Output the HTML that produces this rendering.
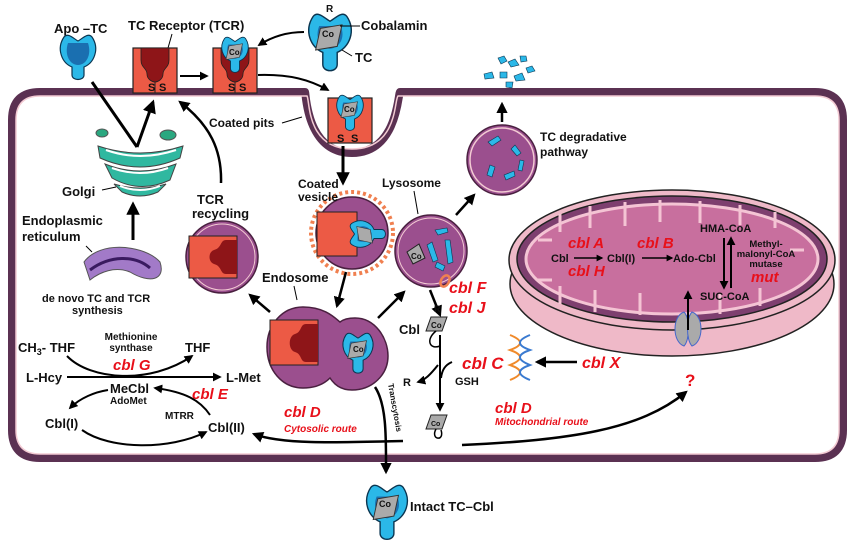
<!DOCTYPE html>
<html><head><meta charset="utf-8"><style>
html,body{margin:0;padding:0;background:#fff}
svg{display:block}
text{font-family:"Liberation Sans",sans-serif;font-weight:bold;fill:#111}
.r{fill:#e8101a;font-style:italic}
</style></head><body>
<svg width="850" height="545" viewBox="0 0 850 545" xmlns="http://www.w3.org/2000/svg">
<defs>
<marker id="ah" viewBox="0 0 10 10" refX="8" refY="5" markerWidth="4.5" markerHeight="4.5" orient="auto-start-reverse"><path d="M0,0L10,5L0,10z" fill="#000"/></marker>
<g id="tc"><path d="M-14,-18C-22,-6 -16,8 -6,12L-6,22C-6,29 6,29 6,22L6,12C16,8 22,-6 14,-18C10,-23 4,-16 0,-14C-4,-16 -10,-23 -14,-18Z" fill="#2bb8e8" stroke="#0b3550" stroke-width="1.2"/><path d="M-9,-10C-13,0 -8,8 0,9C8,8 13,0 9,-10Z" fill="#1a6fb0"/><path d="M-8,-8L10,-11L6,7L-12,10Z" fill="#aaa" stroke="#333" stroke-width="0.8"/></g>
<g id="rec"><rect x="0" y="0" width="44" height="45" fill="#ec5a45" stroke="#222" stroke-width="1.2"/><path d="M8,0L8,12C8,20 14,20 14,26C14,32 20,34 22,34C24,34 30,32 30,26C30,20 36,20 36,12L36,0Z" fill="#8e1518" stroke="#222" stroke-width="0.8"/><line x1="22" y1="34" x2="22" y2="45" stroke="#222"/></g>
</defs>

<!-- cell membrane -->
<path d="M305,92 L40,92 Q12,92 12,120 L12,430 Q12,458 40,458 L815,458 Q843,458 843,430 L843,120 Q843,92 815,92 L400,92 C398,92 398,153 352,153 C306,153 306,92 305,92Z" fill="#fff" stroke="#5b3152" stroke-width="8"/>
<path d="M305,96 L40,96 Q16,96 16,120 L16,430 Q16,454 40,454 L815,454 Q839,454 839,430 L839,120 Q839,96 815,96 L398,96 C394,100 398,149 352,149 C306,149 310,100 307,96Z" fill="none" stroke="#f3cbd3" stroke-width="1.5"/>

<!-- mitochondrion -->
<ellipse cx="672" cy="284" rx="162" ry="72" fill="#efb9c8" stroke="#222" stroke-width="1.5"/>
<ellipse cx="672" cy="260" rx="163" ry="70" fill="#efb9c8" stroke="#222" stroke-width="1.5"/>
<ellipse cx="672" cy="259" rx="155" ry="63" fill="#7e3f6f" stroke="#222" stroke-width="1.5"/>
<ellipse cx="672" cy="259" rx="146" ry="55" fill="#c86f9e" stroke="#f4c4d4" stroke-width="3"/>
<g fill="none" stroke="#f4c4d4" stroke-width="3">
<path d="M560,214 v18 M590,206 v22 M625,202 v24 M660,200 v22 M700,201 v22 M740,205 v20 M775,212 v16 M560,304 v-18 M595,312 v-22 M640,315 v-22 M720,314 v-20 M760,306 v-18 M538,240 h14 M538,280 h14 M804,250 h-14"/>
</g>
<g fill="#aaa" stroke="#4466cc" stroke-width="1"><path d="M684,312C672,316 672,342 684,346C690,340 690,318 684,312Z"/><path d="M692,312C704,316 704,342 692,346C686,340 686,318 692,312Z"/></g>
<line x1="688" y1="330" x2="688" y2="292" stroke="#000" stroke-width="2" marker-end="url(#ah)"/>
<text x="551" y="262" font-size="11">Cbl</text>
<line x1="574" y1="258" x2="602" y2="258" stroke="#000" stroke-width="1.5" marker-end="url(#ah)"/>
<text x="607" y="262" font-size="11">Cbl(I)</text>
<line x1="642" y1="258" x2="672" y2="258" stroke="#000" stroke-width="1.5" marker-end="url(#ah)"/>
<text x="673" y="262" font-size="11">Ado-Cbl</text>
<text class="r" x="568" y="248" font-size="15">cbl A</text>
<text class="r" x="568" y="276" font-size="15">cbl H</text>
<text class="r" x="637" y="248" font-size="15">cbl B</text>
<text x="700" y="232" font-size="11">HMA-CoA</text>
<text x="700" y="300" font-size="11">SUC-CoA</text>
<line x1="724" y1="238" x2="724" y2="288" stroke="#000" stroke-width="2" marker-end="url(#ah)"/>
<line x1="731" y1="288" x2="731" y2="238" stroke="#000" stroke-width="2" marker-end="url(#ah)"/>
<text x="766" y="247" font-size="9.5" text-anchor="middle" font-weight="normal">Methyl-</text>
<text x="766" y="257" font-size="9.5" text-anchor="middle" font-weight="normal">malonyl-CoA</text>
<text x="766" y="267" font-size="9.5" text-anchor="middle" font-weight="normal">mutase</text>
<text class="r" x="751" y="282" font-size="15">mut</text>

<!-- top section -->
<text x="54" y="33" font-size="13">Apo –TC</text>
<g transform="translate(78,55)"><path d="M-14,-18C-22,-6 -16,8 -6,12L-6,20C-6,26 6,26 6,20L6,12C16,8 22,-6 14,-18C10,-23 4,-16 0,-14C-4,-16 -10,-23 -14,-18Z" fill="#2bb8e8" stroke="#0b3550" stroke-width="1.2"/><path d="M-10,-12C-14,0 -8,10 0,10C8,10 14,0 10,-12Z" fill="#1a6fb0"/></g>
<text x="128" y="30" font-size="13">TC Receptor (TCR)</text>
<line x1="172" y1="34" x2="168" y2="48" stroke="#000"/>
<use href="#rec" x="133" y="48"/>
<use href="#rec" x="213" y="48"/>
<g transform="translate(235,52) scale(0.75)"><use href="#tc"/></g>
<text x="148" y="91" font-size="11">S</text><text x="159" y="91" font-size="11">S</text>
<text x="228" y="91" font-size="11">S</text><text x="239" y="91" font-size="11">S</text>
<text x="229" y="55" font-size="8">Co</text>
<line x1="180" y1="76" x2="207" y2="76" stroke="#000" stroke-width="2" marker-end="url(#ah)"/>
<g transform="translate(330,38) scale(1.2)"><use href="#tc"/></g>
<text x="322" y="37" font-size="9">Co</text>
<text x="326" y="12" font-size="10">R</text>
<text x="361" y="30" font-size="13">Cobalamin</text>
<line x1="340" y1="26" x2="360" y2="26" stroke="#000"/>
<text x="355" y="62" font-size="13">TC</text>
<line x1="342" y1="50" x2="352" y2="56" stroke="#000"/>
<path d="M304,32 C285,32 270,38 259,45" fill="none" stroke="#000" stroke-width="2" marker-end="url(#ah)"/>
<path d="M258,75 C290,74 310,80 328,90" fill="none" stroke="#000" stroke-width="2" marker-end="url(#ah)"/>

<!-- coated pit -->
<rect x="328" y="98" width="44" height="45" fill="#ec5a45" stroke="#222" stroke-width="1.2"/>
<g transform="translate(350,110) scale(0.75)"><use href="#tc"/></g>
<text x="344" y="112" font-size="8">Co</text>
<text x="337" y="142" font-size="11">S</text><text x="351" y="142" font-size="11">S</text>
<text x="209" y="127" font-size="12">Coated pits</text>
<line x1="282" y1="123" x2="302" y2="117" stroke="#000"/>

<!-- fragments -->
<g fill="#2bb8e8" stroke="#0b3550" stroke-width="0.6">
<path d="M498,58l6,-2 3,5 -6,3z"/><path d="M508,62l7,-3 4,6 -8,2z"/><path d="M520,56l6,0 1,5 -6,1z"/><path d="M484,74l8,-2 2,6 -9,1z"/><path d="M500,72l7,0 0,6 -7,0z"/><path d="M514,76l8,-3 3,7 -9,1z"/><path d="M526,68l6,-2 3,5 -7,2z"/><path d="M506,82l7,0 -1,6 -6,-1z"/>
</g>

<!-- degradative -->
<circle cx="502" cy="160" r="35" fill="#9b4f8e" stroke="#4a2040" stroke-width="1.5"/>
<circle cx="502" cy="160" r="32" fill="none" stroke="#f3cbd3" stroke-width="1.5"/>
<g fill="#2bb8e8" stroke="#0b3550" stroke-width="0.6"><path d="M488,142l10,-6 3,4 -9,6z"/><path d="M515,145l6,8 -4,3 -6,-7z"/><path d="M490,165l-3,10 5,2 3,-10z"/><path d="M504,175l10,-4 1,5 -9,4z"/><path d="M520,160l-2,10 4,1 2,-10z"/></g>
<line x1="502" y1="122" x2="502" y2="104" stroke="#000" stroke-width="2.5" marker-end="url(#ah)"/>
<text x="540" y="141" font-size="12">TC degradative</text>
<text x="540" y="156" font-size="12">pathway</text>

<!-- coated vesicle -->
<circle cx="352" cy="233" r="41" fill="none" stroke="#f08050" stroke-width="4" stroke-dasharray="3 3"/>
<circle cx="352" cy="233" r="36" fill="#9b4f8e" stroke="#4a2040" stroke-width="1.5"/>
<rect x="317" y="212" width="40" height="44" fill="#ec5a45" stroke="#222"/>
<g transform="translate(365,234) rotate(-90) scale(0.75)"><use href="#tc"/></g>
<text x="298" y="188" font-size="12">Coated</text>
<text x="298" y="201" font-size="12">vesicle</text>
<line x1="343" y1="146" x2="343" y2="183" stroke="#000" stroke-width="3" marker-end="url(#ah)"/>

<!-- lysosome -->
<circle cx="431" cy="251" r="36" fill="#9b4f8e" stroke="#4a2040" stroke-width="1.5"/>
<circle cx="431" cy="251" r="33" fill="none" stroke="#f3cbd3" stroke-width="1"/>
<path d="M407,252l12,-8 6,14 -12,6z" fill="#aaa" stroke="#222"/>
<text x="411" y="259" font-size="8">Co</text>
<g fill="#2bb8e8" stroke="#0b3550" stroke-width="0.6"><path d="M435,230l12,-2 1,4 -10,3z"/><path d="M427,245l5,-3 6,18 -5,2z"/><path d="M445,240l5,0 3,22 -5,2z"/><path d="M437,262l8,4 -2,5 -8,-4z"/></g>
<ellipse cx="445" cy="281" rx="4" ry="6" fill="none" stroke="#f08050" stroke-width="2.5" transform="rotate(30 445 281)"/>
<text x="382" y="187" font-size="12">Lysosome</text>
<line x1="414" y1="191" x2="418" y2="214" stroke="#000"/>
<text class="r" x="449" y="293" font-size="16">cbl F</text>
<text class="r" x="449" y="313" font-size="16">cbl J</text>
<line x1="456" y1="215" x2="474" y2="195" stroke="#000" stroke-width="2.5" marker-end="url(#ah)"/>

<!-- TCR recycling -->
<circle cx="222" cy="257" r="36" fill="#9b4f8e" stroke="#4a2040" stroke-width="1.5"/>
<circle cx="222" cy="257" r="33" fill="none" stroke="#f3cbd3" stroke-width="1"/>
<rect x="189" y="236" width="48" height="42" fill="#ec5a45" stroke="#222"/>
<path d="M237,240 L226,240 C220,240 222,248 214,250 C208,252 208,262 214,264 C222,266 220,274 226,274 L237,274Z" fill="#8e1518"/>
<text x="197" y="204" font-size="13">TCR</text>
<text x="192" y="218" font-size="13">recycling</text>
<path d="M221,183 C222,150 210,125 180,102" fill="none" stroke="#000" stroke-width="2.5" marker-end="url(#ah)"/>

<!-- golgi -->
<ellipse cx="102" cy="133" rx="6" ry="4" fill="#2aa880" stroke="#555"/>
<ellipse cx="168" cy="135" rx="8" ry="5" fill="#2aa880" stroke="#555"/>
<path d="M98,146 Q140,160 183,146 L180,158 Q140,176 100,158Z M105,164 Q140,178 176,164 L170,180 Q140,194 112,178Z M114,184 Q140,192 166,184 L158,192 Q140,200 122,192Z" fill="#30b8a0" stroke="#444"/>
<path d="M106,150 Q140,162 176,150 M112,168 Q140,178 168,168 M120,186 Q140,194 160,186" fill="none" stroke="#fff" stroke-width="2"/>
<text x="62" y="196" font-size="13">Golgi</text>
<line x1="102" y1="190" x2="116" y2="187" stroke="#000"/>
<path d="M137,147 L92,82 M137,147 L153,102" fill="none" stroke="#000" stroke-width="3" marker-end="url(#ah)"/>
<line x1="133" y1="240" x2="133" y2="204" stroke="#000" stroke-width="3" marker-end="url(#ah)"/>

<!-- ER -->
<path d="M84,262 C100,240 145,245 160,262 C166,280 150,284 130,272 C115,266 100,272 90,280 Z" fill="#a27ac8" stroke="#555"/>
<path d="M90,270 C110,255 135,255 150,268" fill="none" stroke="#3a1a60" stroke-width="3"/>
<text x="22" y="225" font-size="13">Endoplasmic</text>
<text x="22" y="241" font-size="13">reticulum</text>
<line x1="86" y1="246" x2="92" y2="252" stroke="#000"/>
<text x="42" y="302" font-size="11">de novo TC and TCR</text>
<text x="72" y="314" font-size="11">synthesis</text>

<!-- endosome -->
<path d="M303,307 C325,307 335,318 340,322 C345,318 352,318 355,318 C375,318 388,338 388,356 C388,375 372,390 352,390 C340,390 334,384 330,378 C323,385 313,388 303,388 C282,388 267,370 267,347 C267,325 282,307 303,307Z" fill="#9b4f8e" stroke="#4a2040" stroke-width="1.5"/>
<rect x="270" y="320" width="48" height="45" fill="#ec5a45" stroke="#222"/>
<path d="M318,324 L306,324 C300,324 302,332 295,334 C288,336 288,350 295,352 C302,354 300,362 306,362 L318,362Z" fill="#8e1518"/>
<g transform="translate(358,350) scale(0.85)"><use href="#tc"/></g>
<text x="353" y="352" font-size="8">Co</text>
<text x="262" y="282" font-size="13">Endosome</text>
<line x1="294" y1="286" x2="297" y2="300" stroke="#000"/>
<line x1="346" y1="272" x2="337" y2="306" stroke="#000" stroke-width="2.5" marker-end="url(#ah)"/>
<line x1="270" y1="312" x2="250" y2="295" stroke="#000" stroke-width="2.5" marker-end="url(#ah)"/>
<line x1="378" y1="318" x2="404" y2="292" stroke="#000" stroke-width="2.5" marker-end="url(#ah)"/>
<line x1="430" y1="290" x2="440" y2="315" stroke="#000" stroke-width="2.5" marker-end="url(#ah)"/>

<!-- Cbl processing -->
<path d="M431,317l16,0 -5,14 -16,0z" fill="#aaa" stroke="#222"/>
<text x="431" y="328" font-size="8">Co</text>
<text x="434" y="312" font-size="9" font-weight="normal">R</text>
<text x="399" y="334" font-size="13">Cbl</text>
<path d="M436,331 C425,340 430,350 440,346" fill="none" stroke="#000" stroke-width="1.5"/>
<line x1="440" y1="335" x2="440" y2="410" stroke="#000" stroke-width="2" marker-end="url(#ah)"/>
<path d="M438,365 C430,375 425,380 418,382" fill="none" stroke="#000" stroke-width="2" marker-end="url(#ah)"/>
<path d="M452,362 C445,365 442,370 441,378" fill="none" stroke="#000" stroke-width="2"/>
<text x="403" y="386" font-size="11">R</text>
<text x="455" y="385" font-size="11">GSH</text>
<path d="M431,415l16,0 -5,14 -16,0z" fill="#aaa" stroke="#222"/>
<text x="431" y="426" font-size="7">Co</text>
<path d="M436,429 C430,440 445,442 441,430" fill="none" stroke="#000" stroke-width="1.5"/>
<text class="r" x="462" y="369" font-size="17">cbl C</text>
<g fill="none" stroke-width="2"><path d="M510,335 Q530,343 510,350 Q530,357 510,365 Q530,372 510,380" stroke="#f08a2a"/><path d="M530,335 Q510,343 530,350 Q510,357 530,365 Q510,372 530,380" stroke="#3a7ad0"/></g>
<line x1="577" y1="362" x2="537" y2="362" stroke="#000" stroke-width="2.5" marker-end="url(#ah)"/>
<text class="r" x="582" y="368" font-size="16">cbl X</text>
<text class="r" x="495" y="413" font-size="15">cbl D</text>
<text class="r" x="495" y="425" font-size="10">Mitochondrial route</text>
<path d="M462,445 C570,440 640,430 686,392" fill="none" stroke="#000" stroke-width="2.5" marker-end="url(#ah)"/>
<text x="685" y="386" font-size="17" style="fill:#e8101a">?</text>

<!-- transcytosis -->
<path d="M375,387 C387,405 386,440 386,472" fill="none" stroke="#000" stroke-width="2.5" marker-end="url(#ah)"/>
<text x="0" y="0" font-size="8" font-weight="normal" transform="translate(388,384) rotate(80)">Transcytosis</text>
<g transform="translate(387,508) scale(1.15)"><use href="#tc"/></g>
<text x="379" y="507" font-size="9">Co</text>
<text x="410" y="511" font-size="13">Intact TC–Cbl</text>

<!-- cytosolic route -->
<path d="M403,441 C330,443 280,444 254,434" fill="none" stroke="#000" stroke-width="2.5" marker-end="url(#ah)"/>
<text class="r" x="284" y="417" font-size="15">cbl D</text>
<text class="r" x="284" y="432" font-size="10">Cytosolic route</text>

<!-- methionine cycle -->
<text x="18" y="352" font-size="13">CH<tspan font-size="9" dy="3">3</tspan><tspan dy="-3">- THF</tspan></text>
<text x="131" y="340" font-size="10" text-anchor="middle">Methionine</text>
<text x="131" y="351" font-size="10" text-anchor="middle">synthase</text>
<text class="r" x="113" y="370" font-size="15">cbl G</text>
<text x="185" y="352" font-size="13">THF</text>
<path d="M67,356 C90,380 150,385 192,356" fill="none" stroke="#000" stroke-width="2" marker-end="url(#ah)"/>
<text x="26" y="382" font-size="13">L-Hcy</text>
<line x1="67" y1="377" x2="220" y2="377" stroke="#000" stroke-width="2" marker-end="url(#ah)"/>
<text x="226" y="382" font-size="13">L-Met</text>
<text x="110" y="393" font-size="13">MeCbl</text>
<text x="110" y="404" font-size="10">AdoMet</text>
<text class="r" x="192" y="399" font-size="15">cbl E</text>
<path d="M108,390 C95,392 80,398 70,408" fill="none" stroke="#000" stroke-width="2" marker-end="url(#ah)"/>
<path d="M210,415 C200,400 185,392 155,388" fill="none" stroke="#000" stroke-width="2" marker-end="url(#ah)"/>
<text x="165" y="419" font-size="10">MTRR</text>
<text x="45" y="428" font-size="13">Cbl(I)</text>
<text x="208" y="432" font-size="13">Cbl(II)</text>
<path d="M82,430 C110,450 170,450 206,432" fill="none" stroke="#000" stroke-width="2" marker-end="url(#ah)"/>
</svg>
</body></html>
